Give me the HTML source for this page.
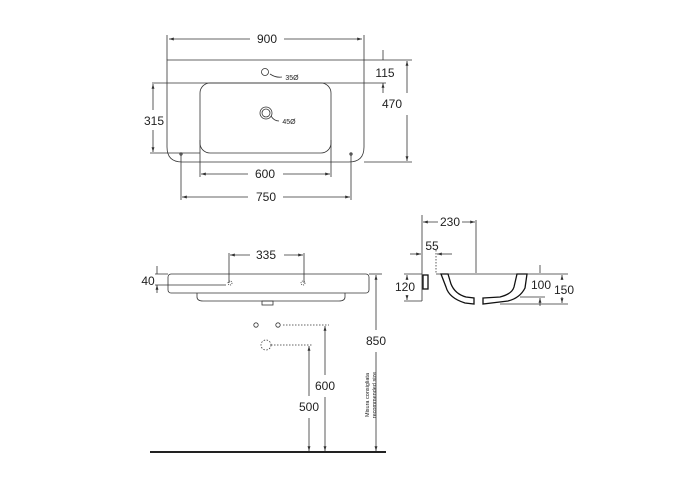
<!DOCTYPE html>
<html><head><style>body{margin:0;background:#fff}svg{display:block}text{font-family:"Liberation Sans",sans-serif;fill:#222}</style></head><body>
<svg width="700" height="500" viewBox="0 0 700 500">
<defs><marker id="a" viewBox="0 0 10 10" refX="10" refY="5" markerWidth="6" markerHeight="6" orient="auto-start-reverse"><path d="M0,2L10,5L0,8z" fill="#333"/></marker></defs>
<g stroke="#333" stroke-width="0.8" fill="none">
<!-- top view -->
<path d="M167,60H364V147Q364,162 349,162H182Q167,162 167,147Z"/>
<rect x="200" y="83" width="131" height="70" rx="10"/>
<circle cx="265" cy="72" r="3.5"/>
<circle cx="266" cy="113" r="6"/><circle cx="266" cy="113" r="4"/>
<path d="M270,74Q276,78 282,77"/><path d="M271,116Q274,121 279,121"/>
<circle cx="181" cy="154" r="1.2"/><circle cx="351" cy="154" r="1.2"/>
<path d="M167,60V35M364,60V35M364,60H412M152,83H386M364,162H412M150,153H200M200,140V177M331,140V177M181,153V200M351,153V200"/>
<path d="M169,39H250M284,39H362" marker-start="url(#a)" marker-end="url(#a)"/>
<path d="M383,50V60M383,93V83" marker-end="url(#a)"/>
<path d="M407,61V93M407,115V161" marker-start="url(#a)" marker-end="url(#a)"/>
<path d="M153,84V110M153,130V152" marker-start="url(#a)" marker-end="url(#a)"/>
<path d="M201,174H248M283,174H330" marker-start="url(#a)" marker-end="url(#a)"/>
<path d="M182,197H248M283,197H350" marker-start="url(#a)" marker-end="url(#a)"/>
<!-- side view -->
<rect x="168" y="274" width="201" height="19" rx="3"/>
<path d="M197,293V297Q197,301 203,301H339Q345,301 345,297V293"/>
<rect x="262" y="301" width="11" height="4"/>
<path d="M229,253V283M304,253V283M155,274H168M155,285H226"/>
<path d="M230,255H250M284,255H303" marker-start="url(#a)" marker-end="url(#a)"/>
<path d="M157,266V274M157,293V285" marker-end="url(#a)"/>
<circle cx="230" cy="283" r="2" stroke-dasharray="1,1"/><circle cx="303" cy="283" r="2" stroke-dasharray="1,1"/>
<path d="M369,274H382"/>
<path d="M376,275V330M376,352V451" marker-start="url(#a)" marker-end="url(#a)"/>
<circle cx="256" cy="325" r="2.2"/><circle cx="278" cy="325" r="2.2"/>
<circle cx="266" cy="345" r="5" stroke-dasharray="1.5,1.5"/>
<path d="M283,325H329M271,345H313" stroke-dasharray="1.5,1.5"/>
<path d="M325,326V375M325,397V451" marker-start="url(#a)" marker-end="url(#a)"/>
<path d="M309,346V396M309,418V451" marker-start="url(#a)" marker-end="url(#a)"/>
<!-- section -->
<path d="M422,215V301M476,220V273M530,274H568M520,297H545M500,304H568M404,274H422M404,301H422"/>
<path d="M436,250V274" stroke-dasharray="1.5,1.5"/>
<path d="M423,222H438M462,222H475" marker-start="url(#a)" marker-end="url(#a)"/>
<path d="M410,254H421" marker-end="url(#a)"/><path d="M452,254H437" marker-end="url(#a)"/>
<path d="M407,275V280M407,295V300" marker-start="url(#a)" marker-end="url(#a)"/>
<path d="M540,265V273M540,306V298" marker-end="url(#a)"/>
<path d="M562,275V280M562,297V303" marker-start="url(#a)" marker-end="url(#a)"/>
<path d="M436,274H530"/>
</g>
<g stroke="#111" stroke-width="1.3" fill="#fff">
<rect x="423" y="275" width="5" height="14"/>
<path d="M441,274H448L451,284Q455,294 466,297L474,298V304L465,303Q449,298 446,287Z"/>
<path d="M483,298L500,297Q512,294 514,287L517,274H527L525,288Q520,298 508,301L483,304Z"/>
</g>
<rect x="150" y="451" width="236" height="2" fill="#222"/>
<g font-size="12" text-anchor="middle">
<text x="267" y="43">900</text><text x="385" y="77">115</text><text x="392" y="108">470</text>
<text x="154" y="125">315</text><text x="265" y="178">600</text><text x="266" y="201">750</text>
<text x="266" y="259">335</text><text x="148" y="285">40</text><text x="376" y="345">850</text>
<text x="325" y="390">600</text><text x="309" y="411">500</text>
<text x="450" y="226">230</text><text x="432" y="250">55</text><text x="405" y="291">120</text>
<text x="541" y="289">100</text><text x="564" y="294">150</text>
</g>
<g font-size="7"><text x="292" y="80" text-anchor="middle">35Ø</text><text x="289" y="124" text-anchor="middle">45Ø</text></g>
<g font-size="5.5" fill="#333" text-anchor="middle">
<text transform="translate(369,395) rotate(-90)">Misura consigliata</text>
<text transform="translate(376,395) rotate(-90)">recommended size</text>
</g>
</svg>
</body></html>
